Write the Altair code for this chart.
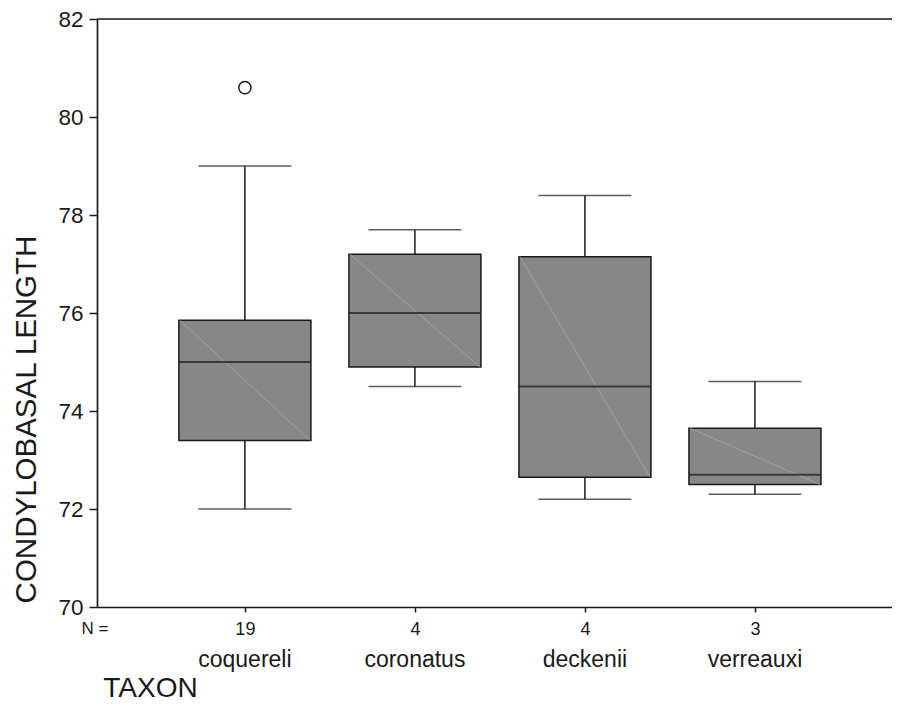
import altair as alt
import pandas as pd

# ---- data ----
taxa = ["coquereli", "coronatus", "deckenii", "verreauxi"]
n_obs = [19, 4, 4, 3]
whisker_low = [72.0, 74.5, 72.2, 72.3]
q1 = [73.4, 74.9, 72.65, 72.5]
median = [75.0, 76.0, 74.5, 72.7]
q3 = [75.85, 77.2, 77.15, 73.65]
whisker_high = [79.0, 77.7, 78.4, 74.6]
outlier_taxa = ["coquereli"]
outlier_values = [80.6]
y_ticks = [70, 72, 74, 76, 78, 80, 82]

df = pd.DataFrame({
    "taxon": taxa, "n": n_obs, "lo": whisker_low, "q1": q1,
    "med": median, "q3": q3, "hi": whisker_high,
})
out_df = pd.DataFrame({"taxon": outlier_taxa, "value": outlier_values})
nlab_df = pd.DataFrame({"label": ["N ="]})

W, H = 795, 588
INK = "#1a1a1a"
FILL = "#878787"
FONT = "Liberation Sans"

label_expr = " : ".join(
    f"datum.value == '{t}' ? '{n}'" for t, n in zip(taxa, n_obs)
) + " : ''"

x_axis = alt.Axis(
    title="TAXON", labelExpr=label_expr, labelAngle=0,
    labelFontSize=18, labelFont=FONT, labelColor=INK, labelPadding=8,
    tickSize=5, tickColor=INK, tickWidth=1.5,
    domainColor=INK, domainWidth=1.7, grid=False,
    titleFontSize=28, titleFont=FONT, titleFontWeight="normal", titleColor=INK,
    titleX=53, titleY=89, titleAlign="center", titleBaseline="alphabetic",
)
y_axis = alt.Axis(
    title="CONDYLOBASAL LENGTH", values=y_ticks,
    labelFontSize=22.5, labelFont=FONT, labelColor=INK, labelPadding=6,
    tickSize=8, tickColor=INK, tickWidth=1.5,
    domainColor=INK, domainWidth=1.7, grid=False,
    titleFontSize=29.5, titleFont=FONT, titleFontWeight="normal", titleColor=INK,
    titleX=-62, titleY=400, titleAlign="center", titleBaseline="alphabetic",
    titleAngle=270,
)
x_scale = alt.Scale(type="point", padding=0.838, align=0.519)
y_scale = alt.Scale(domain=[70, 82], nice=False, zero=False)


def X():
    return alt.X("taxon:N", sort=taxa, scale=x_scale, axis=x_axis)


def Y(field):
    return alt.Y(field, type="quantitative", scale=y_scale, axis=y_axis)


base = alt.Chart(df)

low_whisker = base.mark_rule(color=INK, strokeWidth=1.5).encode(
    x=X(), y=Y("lo"), y2="q1")
high_whisker = base.mark_rule(color=INK, strokeWidth=1.5).encode(
    x=X(), y=Y("q3"), y2="hi")
low_cap = base.mark_tick(color=INK, size=93, thickness=1.5).encode(
    x=X(), y=Y("lo"))
high_cap = base.mark_tick(color=INK, size=93, thickness=1.5).encode(
    x=X(), y=Y("hi"))
box = base.mark_bar(size=132, fill=FILL, stroke=INK, strokeWidth=1.5).encode(
    x=X(), y=Y("q1"), y2="q3")
diag = base.mark_rule(color="#a9a9a9", strokeWidth=0.7,
                      xOffset=-65, x2Offset=65).encode(
    x=X(), x2="taxon:N", y=Y("q3"), y2="q1")
med_line = base.mark_tick(color=INK, size=132, thickness=2).encode(
    x=X(), y=Y("med"))
outliers = alt.Chart(out_df).mark_point(
    shape="circle", filled=False, size=150, strokeWidth=1.5, color=INK,
    opacity=1).encode(x=X(), y=Y("value"))
names = base.mark_text(fontSize=23, font=FONT, color=INK,
                       baseline="alphabetic", align="center").encode(
    x=X(), y=alt.value(H + 60), text="taxon:N")
n_label = alt.Chart(nlab_df).mark_text(
    fontSize=17, font=FONT, color=INK, baseline="alphabetic",
    align="center").encode(x=alt.value(-2), y=alt.value(H + 27), text="label:N")
top_rule = alt.Chart(nlab_df).mark_rule(color=INK, strokeWidth=1.7).encode(
    x=alt.value(0), x2=alt.value("width"), y=alt.value(0))

chart = alt.layer(
    low_whisker, high_whisker, low_cap, high_cap, box, diag, med_line,
    outliers, names, n_label, top_rule,
).properties(
    width=W, height=H,
    autosize=alt.AutoSizeParams(type="none"),
    padding={"left": 89, "top": 11, "right": 0, "bottom": 97},
).configure_view(strokeWidth=0).configure(background="white")

chart.save("out.html", embed_options={"renderer": "svg", "actions": False})
